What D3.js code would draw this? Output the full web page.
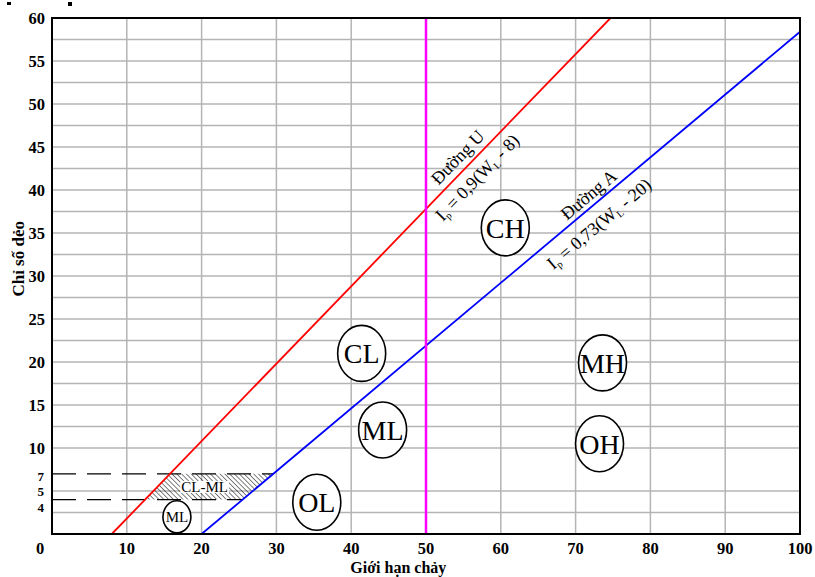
<!DOCTYPE html>
<meta charset="utf-8">
<style>
  body { margin: 0; background: #fff; }
  text { font-family: "Liberation Serif", "Times New Roman", serif; }
</style>
<svg width="815" height="577"></svg>
<script src="https://cdn.jsdelivr.net/npm/d3@7"></script>
<script>

// số liệu
var xTicks = [10, 20, 30, 40, 50, 60, 70, 80, 90, 100];
var yTicks = [10, 15, 20, 25, 30, 35, 40, 45, 50, 55, 60];
var yExtraTicks = [7, 5, 4];
var yGrid = [2.5, 5, 10, 12.5, 15, 17.5, 20, 22.5, 25, 27.5, 30, 32.5, 35, 37.5, 40, 42.5, 45, 47.5, 50, 52.5, 55, 57.5];
// đường U và đường A: Ip = k (WL - w0)
var lineIds = ["U", "A"];
var lineK = [0.9, 0.73];
var lineW0 = [8, 20];
var lineText = ["0,9", "0,73"];
var lineW0Text = ["8", "20"];
var divideWL = 50;
var dashLevels = [7, 4];
var hatchLevels = [4, 7];
// vùng đất
var zoneNames = ["CH", "CL", "ML", "MH", "OH", "OL", "ML"];
var zoneWL = [60.6, 41.4, 44.2, 73.6, 73.2, 35.4, 16.7];
var zoneIp = [35.6, 21.0, 12.1, 19.9, 10.5, 3.7, 2.0];

var svg = d3.select("svg"),
    margin = {top: 18, right: 15, bottom: 43, left: 52},
    width = +svg.attr("width") - margin.left - margin.right,
    height = +svg.attr("height") - margin.top - margin.bottom;

var x = d3.scaleLinear().domain([0, 100]).range([0, width]);
var y = d3.scaleLinear().domain([0, 60]).range([height, 0]);

var g = svg.append("g").attr("transform", "translate(" + margin.left + "," + margin.top + ")");

svg.append("defs").append("clipPath").attr("id", "clip")
  .append("rect").attr("width", width).attr("height", height);

var pat = svg.select("defs").append("pattern")
    .attr("id", "hatch")
    .attr("patternUnits", "userSpaceOnUse")
    .attr("width", 3.4).attr("height", 6)
    .attr("patternTransform", "rotate(-45)");
pat.append("line").attr("x1", 0).attr("y1", 0).attr("x2", 0).attr("y2", 6)
  .attr("stroke", "#000").attr("stroke-width", 1);

// lưới
g.append("g").selectAll("line").data(yGrid).enter().append("line")
    .attr("x1", 0).attr("x2", width)
    .attr("y1", function(d) { return y(d); }).attr("y2", function(d) { return y(d); })
    .attr("stroke", "#b4b4b4").attr("stroke-width", 1.5);
g.append("g").selectAll("line").data(xTicks.slice(0, -1)).enter().append("line")
    .attr("y1", 0).attr("y2", height)
    .attr("x1", function(d) { return x(d); }).attr("x2", function(d) { return x(d); })
    .attr("stroke", "#b4b4b4").attr("stroke-width", 1.5);

function ipAt(i, w) { return lineK[i] * (w - lineW0[i]); }
function wAt(i, ip) { return lineW0[i] + ip / lineK[i]; }

// vùng gạch chéo CL-ML
var hatchPts = [
  [wAt(0, hatchLevels[0]), hatchLevels[0]],
  [wAt(0, hatchLevels[1]), hatchLevels[1]],
  [wAt(1, hatchLevels[1]), hatchLevels[1]],
  [wAt(1, hatchLevels[0]), hatchLevels[0]]
];
g.append("path")
    .attr("d", d3.line().x(function(d) { return x(d[0]); }).y(function(d) { return y(d[1]); })(hatchPts) + "Z")
    .attr("fill", "url(#hatch)");

var clml = g.append("text")
    .attr("x", x(20.4)).attr("y", y(5.5))
    .attr("text-anchor", "middle").attr("dy", "0.35em")
    .attr("font-size", 15).text("CL-ML");
var bb = clml.node().getBBox();
g.insert("rect", function() { return clml.node(); })
    .attr("x", bb.x - 1).attr("y", bb.y + 2).attr("width", bb.width + 2).attr("height", bb.height - 4)
    .attr("fill", "#fff");

// đường nét đứt
g.append("g").selectAll("line").data(dashLevels).enter().append("line")
    .attr("x1", 0).attr("x2", function(d) { return x(wAt(1, d)); })
    .attr("y1", function(d) { return y(d); }).attr("y2", function(d) { return y(d); })
    .attr("stroke", "#000").attr("stroke-width", 1.3)
    .attr("stroke-dasharray", "24,11");

// đường U, đường A
var colors = ["#ff0000", "#0000ff"];
g.append("g").attr("clip-path", "url(#clip)").selectAll("line").data(lineIds).enter().append("line")
    .attr("x1", function(d, i) { return x(lineW0[i]); })
    .attr("y1", y(0))
    .attr("x2", function(d, i) { return x(Math.min(100, wAt(i, 60))); })
    .attr("y2", function(d, i) { return y(ipAt(i, Math.min(100, wAt(i, 60)))); })
    .attr("stroke", function(d, i) { return colors[i]; })
    .attr("stroke-width", 1.8);

g.append("line")
    .attr("x1", x(divideWL)).attr("x2", x(divideWL))
    .attr("y1", 0).attr("y2", height)
    .attr("stroke", "#ff00ff").attr("stroke-width", 2.5);

// chữ dọc theo đường
function angle(i) {
  return -Math.atan(lineK[i] * (y(0) - y(1)) / (x(1) - x(0))) * 180 / Math.PI;
}
function onLine(i, w, dy) {
  var t = g.append("text")
      .attr("transform", "translate(" + x(w) + "," + y(ipAt(i, w)) + ") rotate(" + angle(i) + ")")
      .attr("text-anchor", "middle").attr("y", dy)
      .attr("font-size", 18);
  return t;
}
var namePos = [55.5, 72.7], nameDy = [-7, -5];
var formPos = [55.4, 71.6], formDy = [21, 24];
lineIds.forEach(function(id, i) {
  onLine(i, namePos[i], nameDy[i]).text("Đường " + id);
  var f = onLine(i, formPos[i], formDy[i]);
  f.append("tspan").text("I");
  f.append("tspan").attr("font-size", 10).attr("dy", 3).text("p");
  f.append("tspan").attr("dy", -3).text(" = " + lineText[i] + "(W");
  f.append("tspan").attr("font-size", 10).attr("dy", 3).text("L");
  f.append("tspan").attr("dy", -3).text("  - " + lineW0Text[i] + ")");
});

// vòng tròn ký hiệu
var zone = g.append("g").selectAll("g").data(zoneNames).enter().append("g")
    .attr("transform", function(d, i) { return "translate(" + x(zoneWL[i]) + "," + y(zoneIp[i]) + ")"; });
zone.append("ellipse")
    .attr("rx", function(d, i) { return i == 6 ? 14 : 24; })
    .attr("ry", function(d, i) { return i == 6 ? 16 : 28; })
    .attr("fill", "#fff").attr("stroke", "#000").attr("stroke-width", 1.6);
zone.append("text")
    .attr("text-anchor", "middle").attr("dy", "0.35em")
    .attr("font-size", function(d, i) { return i == 6 ? 15 : 28; })
    .text(function(d) { return d; });

// khung
g.append("rect").attr("width", width).attr("height", height)
    .attr("fill", "none").attr("stroke", "#000").attr("stroke-width", 2);

// nhãn trục
var tickFont = 16.5;
g.append("g").selectAll("text").data(xTicks).enter().append("text")
    .attr("x", function(d) { return x(d); }).attr("y", height + 20)
    .attr("text-anchor", "middle").attr("font-weight", "bold").attr("font-size", tickFont)
    .text(function(d) { return d; });
g.append("text").attr("x", x(0) - 12).attr("y", height + 20)
    .attr("text-anchor", "middle").attr("font-weight", "bold").attr("font-size", tickFont).text("0");

g.append("g").selectAll("text").data(yTicks).enter().append("text")
    .attr("x", -7)
    .attr("y", function(d) { return y(d); })
    .attr("dy", "0.35em")
    .attr("text-anchor", "end").attr("font-weight", "bold").attr("font-size", tickFont)
    .text(function(d) { return d; });

// nhãn 7, 5, 4 xếp sát nhau
var extraDy = [2.5, 0.5, 7.5];
g.append("g").selectAll("text").data(yExtraTicks).enter().append("text")
    .attr("x", -8)
    .attr("y", function(d, i) { return y(d) + extraDy[i]; })
    .attr("dy", "0.35em")
    .attr("text-anchor", "end").attr("font-weight", "bold").attr("font-size", 13)
    .text(function(d) { return d; });

svg.append("text")
    .attr("transform", "translate(24," + (margin.top + y(32)) + ") rotate(-90)")
    .attr("text-anchor", "middle").attr("font-weight", "bold").attr("font-size", 17)
    .text("Chỉ số dẻo");
svg.append("text")
    .attr("x", margin.left + x(46.3)).attr("y", 573)
    .attr("text-anchor", "middle").attr("font-weight", "bold").attr("font-size", 16)
    .text("Giới hạn chảy");

// vết mực trên cùng
svg.append("rect").attr("x", 7).attr("y", 2).attr("width", 4).attr("height", 3);
svg.append("rect").attr("x", 68).attr("y", 2).attr("width", 4).attr("height", 4);
</script>
